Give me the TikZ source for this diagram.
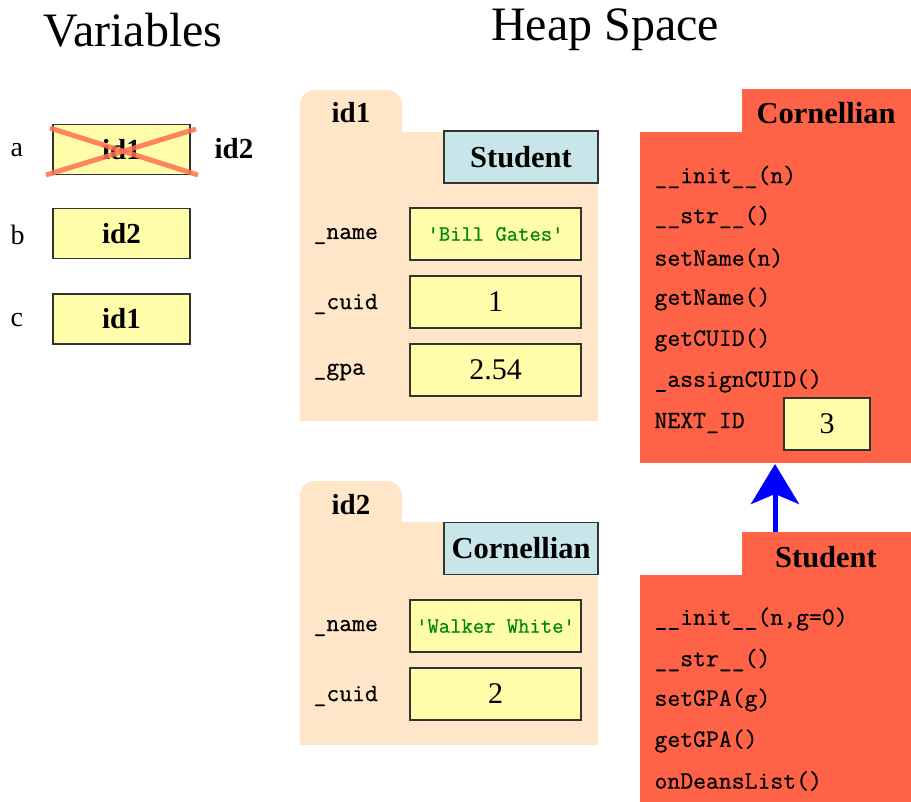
\documentclass[tikz,border=0pt]{standalone}
\usepackage{fontspec}
\setmainfont{Liberation Serif}
\newfontfamily\codefont[FakeBold=0.6]{Latin Modern Mono}
\usetikzlibrary{arrows.meta}
\definecolor{heap}{HTML}{FFE6C8}
\definecolor{clsred}{HTML}{FF6347}
\definecolor{valy}{HTML}{FFFCAA}
\definecolor{clsbox}{HTML}{C8E6EA}
\definecolor{strg}{HTML}{008A00}
\definecolor{edgec}{HTML}{333333}
\definecolor{xred}{HTML}{FF7050}
\newcommand{\fsz}[1]{\fontsize{#1}{#1}\selectfont}
\begin{document}
\begin{tikzpicture}[x=1pt,y=-1pt,
  title/.style={font=\fsz{48}},
  boxbase/.style={draw=edgec,line width=1.4pt,inner sep=0pt},
  varbox/.style={boxbase,fill=valy,minimum width=137pt,minimum height=50pt,font=\fsz{29}\bfseries},
  valbox/.style={boxbase,fill=valy,minimum width=171pt,minimum height=52pt,font=\fsz{30}},
  strval/.style={valbox,font=\fsz{22}\codefont,text=strg},
  nextbox/.style={boxbase,fill=valy,minimum width=86pt,minimum height=52pt,font=\fsz{30}},
  typebox/.style={boxbase,fill=clsbox,minimum width=154pt,minimum height=52pt,font=\fsz{30.5}\bfseries},
  varlbl/.style={font=\fsz{28},anchor=west},
  fieldlbl/.style={font=\fsz{25}\codefont,anchor=west},
  method/.style={font=\fsz{25}\codefont,anchor=west},
  tabtxt/.style={font=\fsz{29}\bfseries},
  clstab/.style={font=\fsz{30.5}\bfseries},
  xline/.style={draw=xred,opacity=0.85,line width=5pt},
  inherit/.style={draw=blue,line width=5pt,-{Stealth[length=40pt,width=48pt,inset=10pt]}}
]
\useasboundingbox (0,0) rectangle (911,802);

% titles
\node[title] (tvar) at (133,30) {Variables};
\node[title] (theap) at (605,30) {Heap Space};

% variables
\node[varlbl] (la) at (7,150) {a};
\node[varlbl] (lb) at (7,235) {b};
\node[varlbl] (lc) at (7,320) {c};
\node[varbox] (va) at (121.5,149.5) {id1};
\node[varbox] (vb) at (121.5,233.5) {id2};
\node[varbox] (vc) at (121.5,319) {id1};
\node[font=\fsz{29}\bfseries] (va2) at (234,149) {id2};
\draw[xline] (46,175) -- (196,129);
\draw[xline] (50,128) -- (198,175);

% heap object id1
\fill[heap,rounded corners=15pt] (300,145) rectangle (402,90);
\fill[heap] (300,132) rectangle (598,421);
\node[tabtxt] (t1) at (351,113) {id1};
\node[typebox] (ty1) at (521,157) {Student};
\node[fieldlbl] (f1a) at (310,236) {\_name};
\node[strval] (v1a) at (495.5,234) {'Bill Gates'};
\node[fieldlbl] (f1b) at (310,304) {\_cuid};
\node[valbox] (v1b) at (495.5,302) {1};
\node[fieldlbl] (f1c) at (310,372) {\_gpa};
\node[valbox] (v1c) at (495.5,370) {2.54};

% heap object id2
\fill[heap,rounded corners=15pt] (300,535) rectangle (402,481);
\fill[heap] (300,522) rectangle (598,745);
\node[tabtxt] (t2) at (351,505) {id2};
\node[typebox] (ty2) at (521,548.5) {Cornellian};
\node[fieldlbl] (f2a) at (310,628) {\_name};
\node[strval] (v2a) at (495.5,626) {'Walker White'};
\node[fieldlbl] (f2b) at (310,696) {\_cuid};
\node[valbox] (v2b) at (495.5,694) {2};

% class Cornellian
\fill[clsred] (742,89) rectangle (911,133);
\fill[clsred] (640,132) rectangle (911,463);
\node[clstab] (cc) at (826,113) {Cornellian};
\node[method] (cm1) at (651,177) {\_\_init\_\_(n)};
\node[method] (cm2) at (651,217) {\_\_str\_\_()};
\node[method] (cm3) at (651,258) {setName(n)};
\node[method] (cm4) at (651,299) {getName()};
\node[method] (cm5) at (651,340) {getCUID()};
\node[method] (cm6) at (651,381) {\_assignCUID()};
\node[method] (cm7) at (651,423) {NEXT\_ID};
\node[nextbox] (nid) at (827,424) {3};
\coordinate (ccbot) at (775,464);

% class Student
\fill[clsred] (742,532) rectangle (911,576);
\fill[clsred] (640,575) rectangle (911,802);
\node[clstab] (sc) at (826,557) {Student};
\node[method] (sm1) at (651,619) {\_\_init\_\_(n,g=0)};
\node[method] (sm2) at (651,660) {\_\_str\_\_()};
\node[method] (sm3) at (651,700) {setGPA(g)};
\node[method] (sm4) at (651,741) {getGPA()};
\node[method] (sm5) at (651,781) {onDeansList()};
\coordinate (sctop) at (775,532);

\draw[inherit] (sctop) -- (ccbot);
\end{tikzpicture}
\end{document}
